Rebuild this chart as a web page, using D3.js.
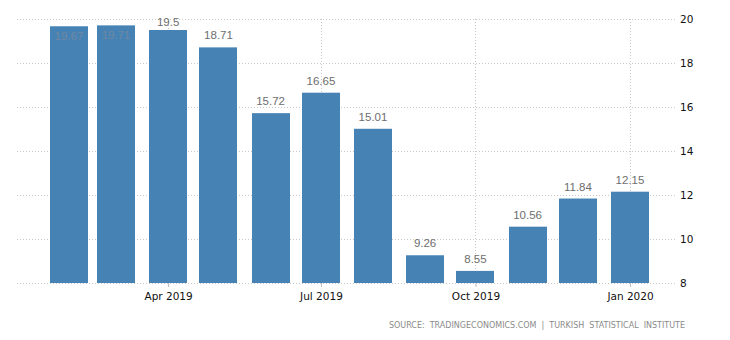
<!DOCTYPE html>
<html>
<head>
<meta charset="utf-8">
<script src="https://cdn.jsdelivr.net/npm/d3@7"></script>
<style>
  html, body { margin: 0; padding: 0; background: #fff; }
  svg { display: block; }
</style>
</head>
<body>
<svg id="chart" width="730" height="340"></svg>
<script>
const months = ["2019-02-01","2019-03-01","2019-04-01","2019-05-01","2019-06-01","2019-07-01",
                "2019-08-01","2019-09-01","2019-10-01","2019-11-01","2019-12-01","2020-01-01"];
const values = [19.67, 19.71, 19.5, 18.71, 15.72, 16.65, 15.01, 9.26, 8.55, 10.56, 11.84, 12.15];
const xTickDates = ["2019-04-01","2019-07-01","2019-10-01","2020-01-01"];
const yTicks = [8, 10, 12, 14, 16, 18, 20];
const sourceText = "SOURCE: TRADINGECONOMICS.COM | TURKISH STATISTICAL INSTITUTE";

const parse = d3.utcParse("%Y-%m-%d");
const fmt = d3.utcFormat("%b %Y");
const data = months.map((m, i) => ({ date: parse(m), value: values[i] }));

const svg = d3.select("#chart");
const x = d3.scaleUtc().domain([parse("2019-02-01"), parse("2020-01-01")]).range([69, 630]);
const y = d3.scaleLinear().domain([8, 20]).range([283, 19]);
const barW = 38;
const gridLeft = 17, gridRight = 677;

// horizontal grid
svg.append("g").selectAll("line").data(yTicks).join("line")
  .attr("x1", gridLeft).attr("x2", gridRight)
  .attr("y1", d => Math.round(y(d)) + 0.5).attr("y2", d => Math.round(y(d)) + 0.5)
  .attr("stroke", "#c8c8c8").attr("stroke-dasharray", "1,2");

// vertical grid
svg.append("g").selectAll("line").data(xTickDates).join("line")
  .attr("x1", d => Math.round(x(parse(d))) + 0.5).attr("x2", d => Math.round(x(parse(d))) + 0.5)
  .attr("y1", y(20)).attr("y2", y(8))
  .attr("stroke", "#c8c8c8").attr("stroke-dasharray", "1,2");

// bars
svg.append("g").selectAll("rect").data(data).join("rect")
  .attr("x", d => Math.round(x(d.date) - barW / 2))
  .attr("y", d => y(d.value))
  .attr("width", barW)
  .attr("height", d => y(8) - y(d.value))
  .attr("fill", "#4682b4");

// value labels
svg.append("g").selectAll("text").data(data).join("text")
  .attr("x", d => x(d.date))
  .attr("y", d => {
    const top = y(d.value);
    let c = top - 12;
    if (c < 16) return top + 10;
    return Math.max(c, 22);
  })
  .attr("dy", "0.35em")
  .attr("text-anchor", "middle")
  .attr("font-family", "Liberation Sans, Arial, sans-serif")
  .attr("font-size", 11.5)
  .attr("fill", d => (y(d.value) - 12 < 16) ? "#6f88a3" : "#6e6e6e")
  .text(d => d.value);

// x axis ticks and labels
const xAxis = d3.axisBottom(x)
  .tickValues(xTickDates.map(parse))
  .tickFormat(fmt)
  .tickSize(4)
  .tickPadding(6);
const gx = svg.append("g").attr("transform", `translate(0,${y(8)})`).call(xAxis);
gx.select(".domain").remove();
gx.selectAll(".tick line").attr("stroke", "#bbb");
gx.selectAll(".tick text").attr("font-family", "DejaVu Sans, sans-serif").attr("font-size", 10.5).attr("fill", "#111");

// y axis labels (right)
const yAxis = d3.axisRight(y).tickValues(yTicks).tickSize(0).tickPadding(0);
const gy = svg.append("g").attr("transform", `translate(680,0)`).call(yAxis);
gy.select(".domain").remove();
gy.selectAll(".tick text").attr("font-family", "DejaVu Sans, sans-serif").attr("font-size", 10.5).attr("fill", "#111");

// source
svg.append("text")
  .attr("x", 685).attr("y", 328)
  .attr("text-anchor", "end")
  .attr("font-family", "DejaVu Sans, sans-serif")
  .attr("font-size", 8)
  .attr("letter-spacing", "0px")
  .attr("word-spacing", "2.5px")
  .attr("fill", "#8a8a8a")
  .text(sourceText);
</script>
</body>
</html>
